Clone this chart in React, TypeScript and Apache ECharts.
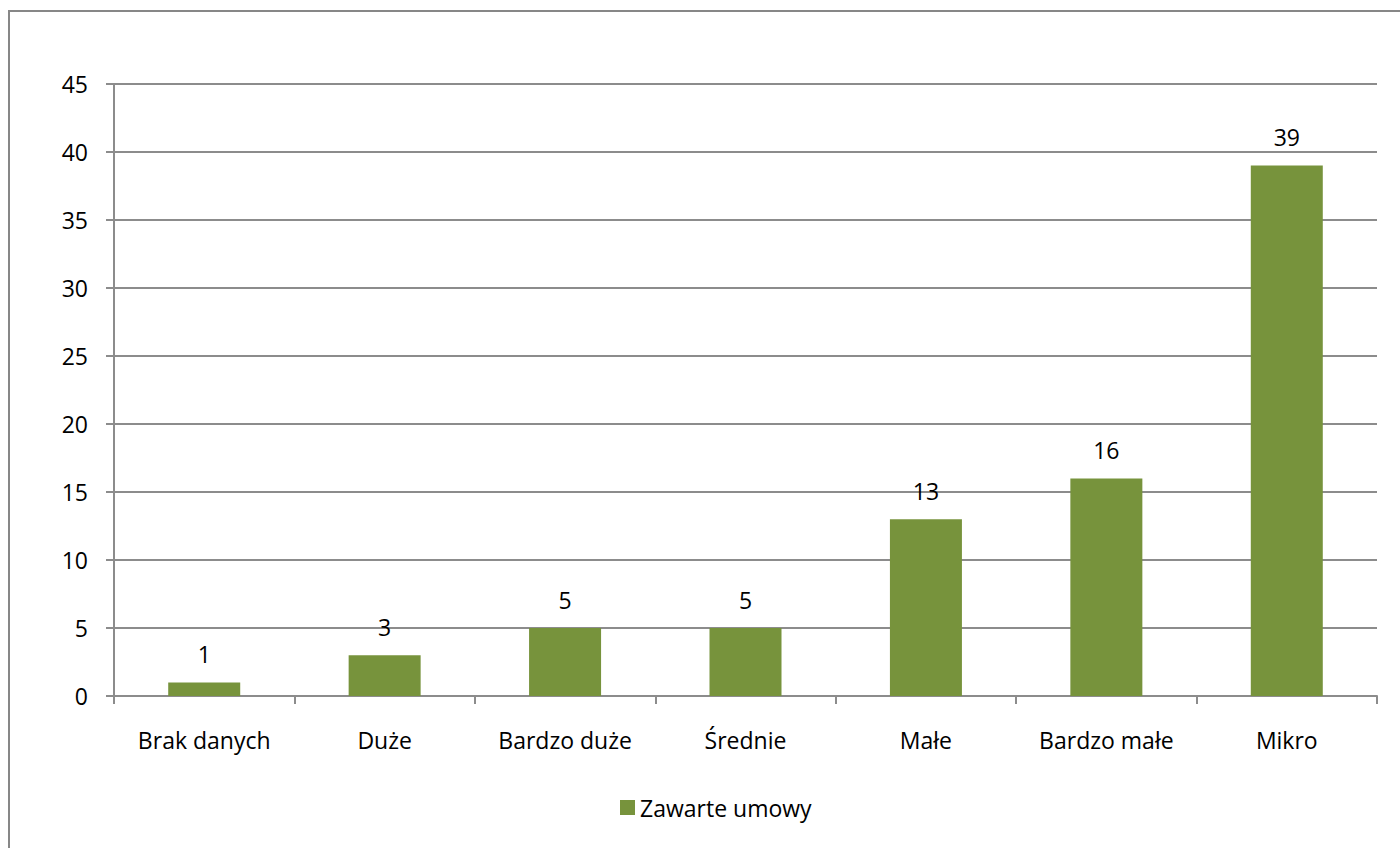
import React, { useEffect, useRef } from "react";
import * as echarts from "echarts";

const categories = ["Brak danych", "Duże", "Bardzo duże", "Średnie", "Małe", "Bardzo małe", "Mikro"];
const values = [1, 3, 5, 5, 13, 16, 39];
const seriesName = "Zawarte umowy";

export default function App() {
  const ref = useRef<HTMLDivElement>(null);
  useEffect(() => {
    document.body.style.margin = "0";
    const chart = echarts.init(ref.current!, null, { renderer: "svg" });
    const font = "'Open Sans', sans-serif";
    const fs = 23;
    chart.setOption({
      animation: false,
      backgroundColor: "#fff",
      textStyle: { fontFamily: font },
      graphic: [
        {
          type: "rect",
          shape: { x: 9, y: 11, width: 1400, height: 848 },
          style: { fill: "none", stroke: "#878787", lineWidth: 2 },
          silent: true,
        },
      ],
      grid: { left: 114, right: 23, top: 84, bottom: 152, containLabel: false },
      legend: {
        bottom: 24,
        left: 615,
        itemWidth: 15,
        itemHeight: 15,
        icon: "rect",
        textStyle: { fontSize: fs, color: "#000", fontFamily: font },
        data: [seriesName],
      },
      xAxis: {
        type: "category",
        data: categories,
        axisLine: { lineStyle: { color: "#8c8c8c", width: 2 } },
        axisTick: { show: true, length: 8, lineStyle: { color: "#8c8c8c", width: 2 } },
        axisLabel: { color: "#000", fontSize: fs, margin: 32, fontFamily: font },
      },
      yAxis: {
        type: "value",
        min: 0,
        max: 45,
        interval: 5,
        axisLine: { show: true, lineStyle: { color: "#8c8c8c", width: 2 } },
        axisTick: { show: true, length: 8, lineStyle: { color: "#8c8c8c", width: 2 } },
        axisLabel: { color: "#000", fontSize: fs, margin: 26, fontFamily: font },
        splitLine: { show: true, lineStyle: { color: "#8c8c8c", width: 2 } },
      },
      series: [
        {
          name: seriesName,
          type: "bar",
          data: values,
          barWidth: 72,
          itemStyle: { color: "#77933C" },
          label: {
            show: true,
            position: "top",
            distance: 17,
            color: "#000",
            fontSize: fs,
            fontFamily: font,
          },
        },
      ],
    });
    return () => chart.dispose();
  }, []);
  return <div ref={ref} style={{ position: "fixed", left: 0, top: 0, width: 1400, height: 848 }} />;
}
